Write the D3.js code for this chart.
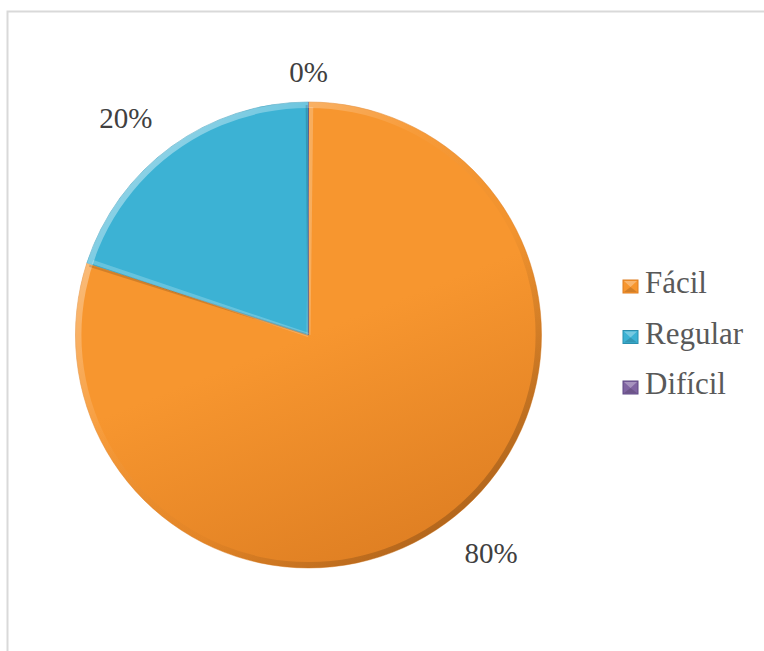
<!DOCTYPE html>
<html>
<head>
<meta charset="utf-8">
<script src="https://cdn.jsdelivr.net/npm/d3@7"></script>
<style>
  html, body { margin: 0; padding: 0; background: #fff; }
  svg { display: block; }
</style>
</head>
<body>
<div id="chart"></div>
<script>
const categories = ["Fácil", "Regular", "Difícil"];
const values = [80, 20, 0];
const labels = ["80%", "20%", "0%"];
const colors = ["#F7962F", "#3CB2D4", "#8064A2"];
const darkColors = ["#DE7E22", "#2B8FAE", "#5E4883"];

const width = 764, height = 651;
const cx = 308.5, cy = 335, r = 233;
const serif = "'Liberation Serif', 'Times New Roman', serif";

const svg = d3.select("#chart").append("svg")
    .attr("width", width)
    .attr("height", height);

// chart area frame (only top and left edges are visible)
svg.append("path")
    .attr("d", "M7.5," + height + "V11.5H" + width)
    .attr("fill", "none")
    .attr("stroke", "#d9d9d9")
    .attr("stroke-width", 2);

const defs = svg.append("defs");

// body gradients (coordinates relative to the pie centre)
colors.forEach(function (c, i) {
    const g = defs.append("linearGradient")
        .attr("id", "fill" + i)
        .attr("gradientUnits", "userSpaceOnUse")
        .attr("x1", -r * 0.4).attr("y1", -r)
        .attr("x2", r * 0.4).attr("y2", r);
    g.append("stop").attr("offset", "0%").attr("stop-color", c);
    g.append("stop").attr("offset", "50%").attr("stop-color", c);
    g.append("stop").attr("offset", "100%").attr("stop-color", darkColors[i]);
});

// rim bevel: highlight top-left, shade bottom-right
const rim = defs.append("linearGradient")
    .attr("id", "rim")
    .attr("gradientUnits", "userSpaceOnUse")
    .attr("x1", -r * 0.7).attr("y1", -r * 0.7)
    .attr("x2", r * 0.7).attr("y2", r * 0.7);
rim.append("stop").attr("offset", "0%").attr("stop-color", "#fff").attr("stop-opacity", 0.4);
rim.append("stop").attr("offset", "35%").attr("stop-color", "#fff").attr("stop-opacity", 0.05);
rim.append("stop").attr("offset", "65%").attr("stop-color", "#000").attr("stop-opacity", 0.02);
rim.append("stop").attr("offset", "100%").attr("stop-color", "#000").attr("stop-opacity", 0.2);

const pie = d3.pie().sort(null).value(d => d);
const arcs = pie(values);

const arc = d3.arc().innerRadius(0).outerRadius(r);
const rimArc = d3.arc().innerRadius(r - 6).outerRadius(r);

const g = svg.append("g").attr("transform", "translate(" + cx + "," + cy + ")");

g.selectAll("path.slice")
    .data(arcs)
    .enter().append("path")
    .attr("class", "slice")
    .attr("d", arc)
    .attr("fill", (d, i) => "url(#fill" + i + ")")
    .attr("stroke", (d, i) => darkColors[i])
    .attr("stroke-opacity", 0.6)
    .attr("stroke-width", 0.8);

// bevel overlay on the outer rim
g.append("path")
    .attr("d", rimArc({ startAngle: 0, endAngle: 2 * Math.PI }))
    .attr("fill", "url(#rim)");

// light highlight just inside the start edge of each slice,
// dark shade along the end edge
arcs.filter(d => d.value > 0).forEach(function (d) {
    const a = d.startAngle + 0.012, b = d.endAngle - 0.008;
    g.append("line")
        .attr("x1", 0).attr("y1", 0)
        .attr("x2", Math.sin(a) * (r - 5))
        .attr("y2", -Math.cos(a) * (r - 5))
        .attr("stroke", "#fff")
        .attr("stroke-opacity", 0.22)
        .attr("stroke-width", 4);
    g.append("line")
        .attr("x1", 0).attr("y1", 0)
        .attr("x2", Math.sin(b) * (r - 3))
        .attr("y2", -Math.cos(b) * (r - 3))
        .attr("stroke", "#000")
        .attr("stroke-opacity", 0.15)
        .attr("stroke-width", 2);
});

// data labels outside the pie
g.selectAll("text.lbl")
    .data(arcs)
    .enter().append("text")
    .attr("class", "lbl")
    .attr("transform", function (d) {
        let a = (d.startAngle + d.endAngle) / 2;
        let rr = d.value === 0 ? 263 : 284;
        if (d.value > 0) a -= 4 * Math.PI / 180;
        return "translate(" + (Math.sin(a) * rr) + "," + (-Math.cos(a) * rr) + ")";
    })
    .attr("text-anchor", "middle")
    .attr("dy", "0.35em")
    .style("font-family", serif)
    .style("font-size", "29px")
    .style("fill", "#404040")
    .text((d, i) => labels[i]);

// legend
const legend = svg.append("g").attr("transform", "translate(623,280)");
const item = legend.selectAll("g")
    .data(categories)
    .enter().append("g")
    .attr("transform", (d, i) => "translate(0," + (i * 50.5) + ")");

item.append("rect")
    .attr("width", 15).attr("height", 13)
    .attr("fill", (d, i) => colors[i])
    .attr("stroke", (d, i) => darkColors[i])
    .attr("stroke-width", 1);
item.append("path")
    .attr("d", "M1,1L14,1L7.5,7Z")
    .attr("fill", "#fff")
    .attr("fill-opacity", 0.3);
item.append("path")
    .attr("d", "M1,12L14,12L7.5,7Z")
    .attr("fill", "#000")
    .attr("fill-opacity", 0.15);

item.append("text")
    .attr("x", 22)
    .attr("y", 13)
    .style("font-family", serif)
    .style("font-size", "31px")
    .style("fill", "#595959")
    .text(d => d);
</script>
</body>
</html>
